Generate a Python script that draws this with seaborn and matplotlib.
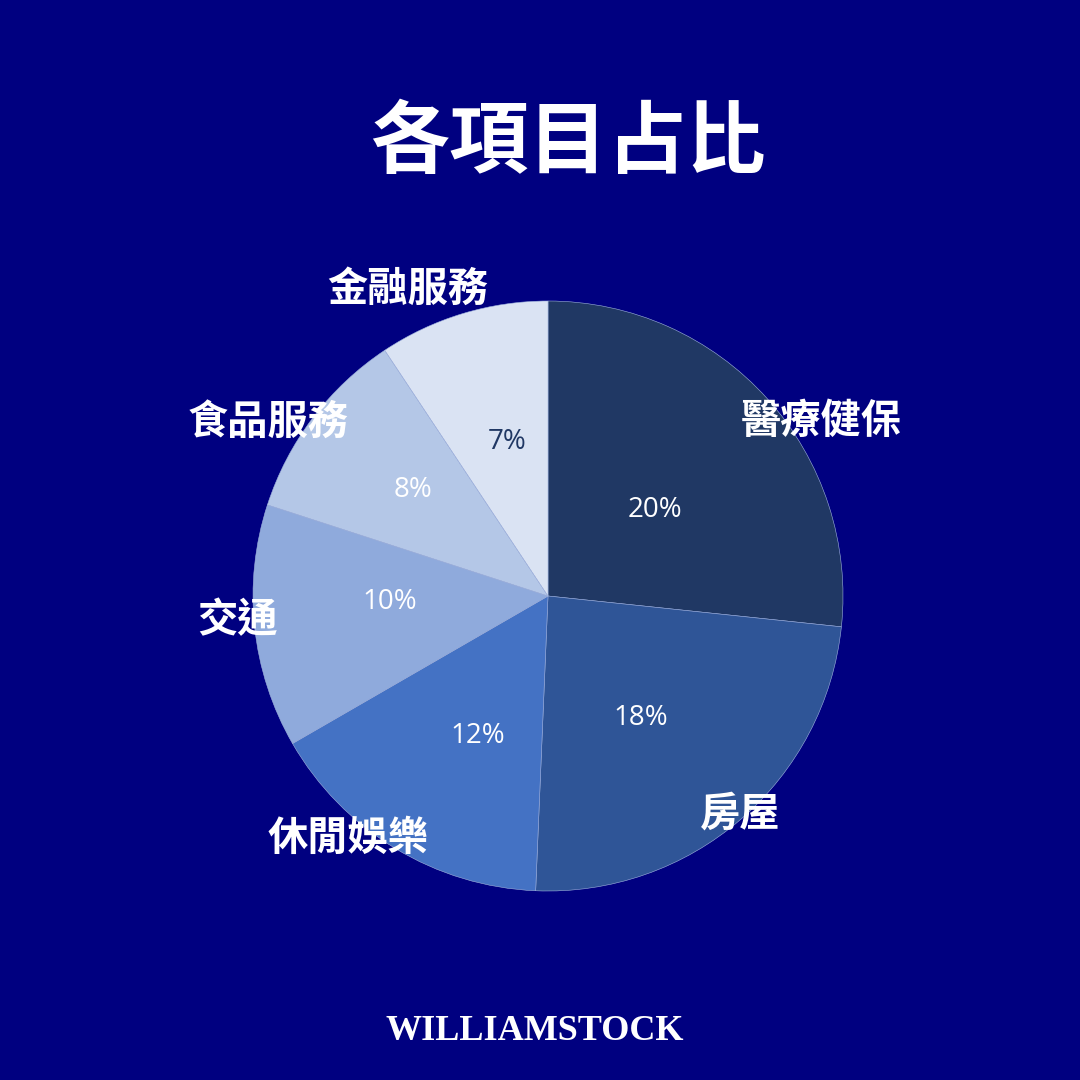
import matplotlib
matplotlib.use("Agg")
import matplotlib.pyplot as plt
import seaborn as sns

# 數據
categories = ["醫療健保", "房屋", "休閒娛樂", "交通", "食品服務", "金融服務"]
values = [20, 18, 12, 10, 8, 7]
slice_colors = ["#203864", "#2F5597", "#4472C4", "#8FAADC", "#B4C7E7", "#DAE3F3"]
pct_colors = ["white", "white", "white", "white", "white", "#203864"]

title_text = "各項目占比"
footer_text = "WILLIAMSTOCK"

# 標籤位置 (以半徑為單位)
label_pos = [(0.925, 0.590), (0.651, -0.739), (-0.678, -0.821),
             (-1.051, -0.085), (-0.949, 0.590), (-0.475, 1.040)]
pct_pos = [(0.363, 0.291), (0.315, -0.414), (-0.237, -0.475),
           (-0.536, -0.021), (-0.458, 0.359), (-0.139, 0.522)]

bg = "#000080"
sns.set_theme(style="white")
plt.rcParams['font.family'] = ['Noto Sans CJK TC', 'DejaVu Sans']

fig = plt.figure(figsize=(10.8, 10.8), dpi=100, facecolor=bg)
ax = fig.add_axes([253 / 1080, 189 / 1080, 590 / 1080, 590 / 1080])
ax.set_facecolor(bg)

total = sum(values)
wedges, texts, autotexts = ax.pie(
    values,
    labels=categories,
    colors=sns.color_palette(slice_colors),
    startangle=90,
    counterclock=False,
    autopct=lambda p: f"{p * total / 100:.0f}%",
    wedgeprops=dict(edgecolor="#9fb3dd", linewidth=0.4),
    radius=1,
)
ax.set_xlim(-1, 1)
ax.set_ylim(-1, 1)
ax.set_aspect("equal")
ax.axis("off")

for t, pos in zip(texts, label_pos):
    t.set_position(pos)
    t.set_ha("center")
    t.set_va("center")
    t.set_color("white")
    t.set_fontsize(29)
    t.set_fontweight("bold")

for t, pos, c in zip(autotexts, pct_pos, pct_colors):
    t.set_position(pos)
    t.set_ha("center")
    t.set_va("center")
    t.set_color(c)
    t.set_fontsize(20)
    t.set_family(["Open Sans", "DejaVu Sans"])

fig.text(0.526, 1 - 143 / 1080, title_text, ha="center", va="center",
         color="white", fontsize=57, fontweight="bold")
fig.text(0.495, 1 - 1032 / 1080, footer_text, ha="center", va="center",
         color="white", fontsize=26, fontweight="bold",
         family=["Liberation Serif", "DejaVu Serif"])

fig.savefig("out.png", dpi=100, facecolor=bg)
